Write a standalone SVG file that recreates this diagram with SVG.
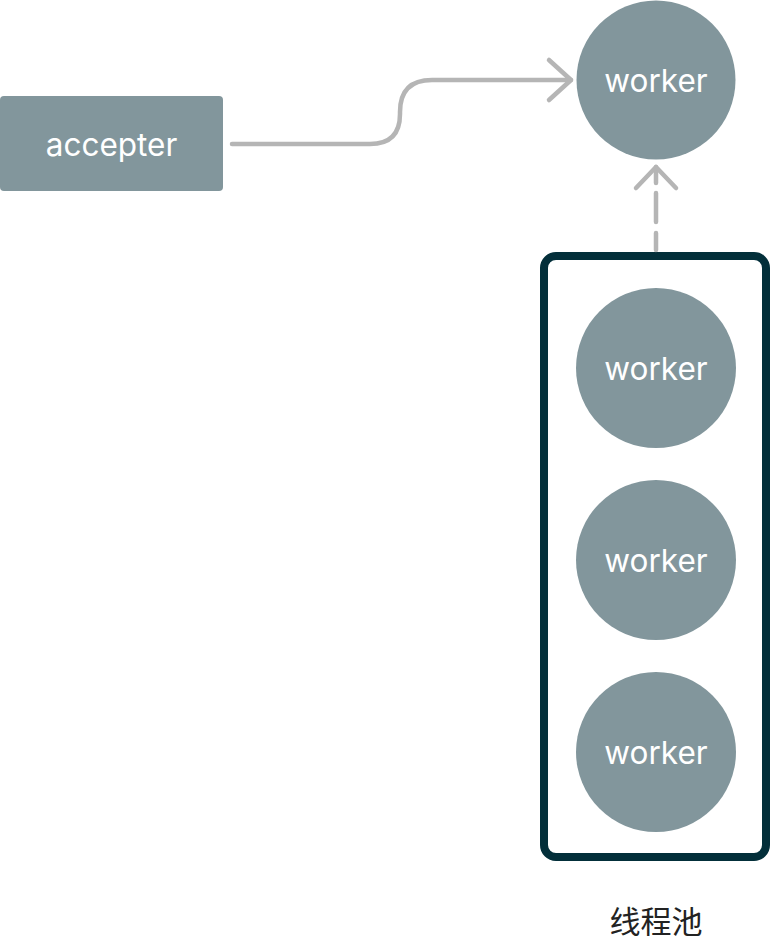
<svg xmlns="http://www.w3.org/2000/svg" width="772" height="943" viewBox="0 0 772 943">
<style>
.node{fill:#82969C}
.lbl{fill:#ffffff;font-family:Inter,"Noto Sans",sans-serif;font-size:31.5px;text-anchor:middle;dominant-baseline:central}
.edge{fill:none;stroke:#B5B5B5;stroke-width:4.5;stroke-linecap:round;stroke-linejoin:round}
</style>
<rect width="772" height="943" fill="#ffffff"/>
<g id="pool">
<rect x="544" y="256" width="222" height="601" rx="12" fill="none" stroke="#032F3A" stroke-width="8"/>
<text x="656" y="933" font-family="'Noto Sans CJK SC','Noto Sans',sans-serif" font-size="31" fill="#222222" text-anchor="middle">线程池</text>
</g>
<g id="accepter">
<rect class="node" x="0" y="96" width="223" height="95" rx="4"/>
<text class="lbl" x="111.5" y="144">accepter</text>
</g>
<g id="worker-top">
<circle class="node" cx="656" cy="80" r="79.5"/>
<text class="lbl" x="656" y="80">worker</text>
</g>
<g id="worker-1">
<circle class="node" cx="656" cy="368" r="80"/>
<text class="lbl" x="656" y="368">worker</text>
</g>
<g id="worker-2">
<circle class="node" cx="656" cy="560" r="80"/>
<text class="lbl" x="656" y="560">worker</text>
</g>
<g id="worker-3">
<circle class="node" cx="656" cy="752" r="80"/>
<text class="lbl" x="656" y="752">worker</text>
</g>
<g id="connectors">
<path class="edge" d="M232 144 H370 Q400 144 400 114 V112 Q400 80 432 80 H571"/>
<polyline class="edge" points="549,60 571,80 549,100"/>
<path class="edge" d="M656 250 V167" stroke-dasharray="17 11 29 10 17"/>
<polyline class="edge" points="636,188 656,167 676,188"/>
</g>
</svg>
